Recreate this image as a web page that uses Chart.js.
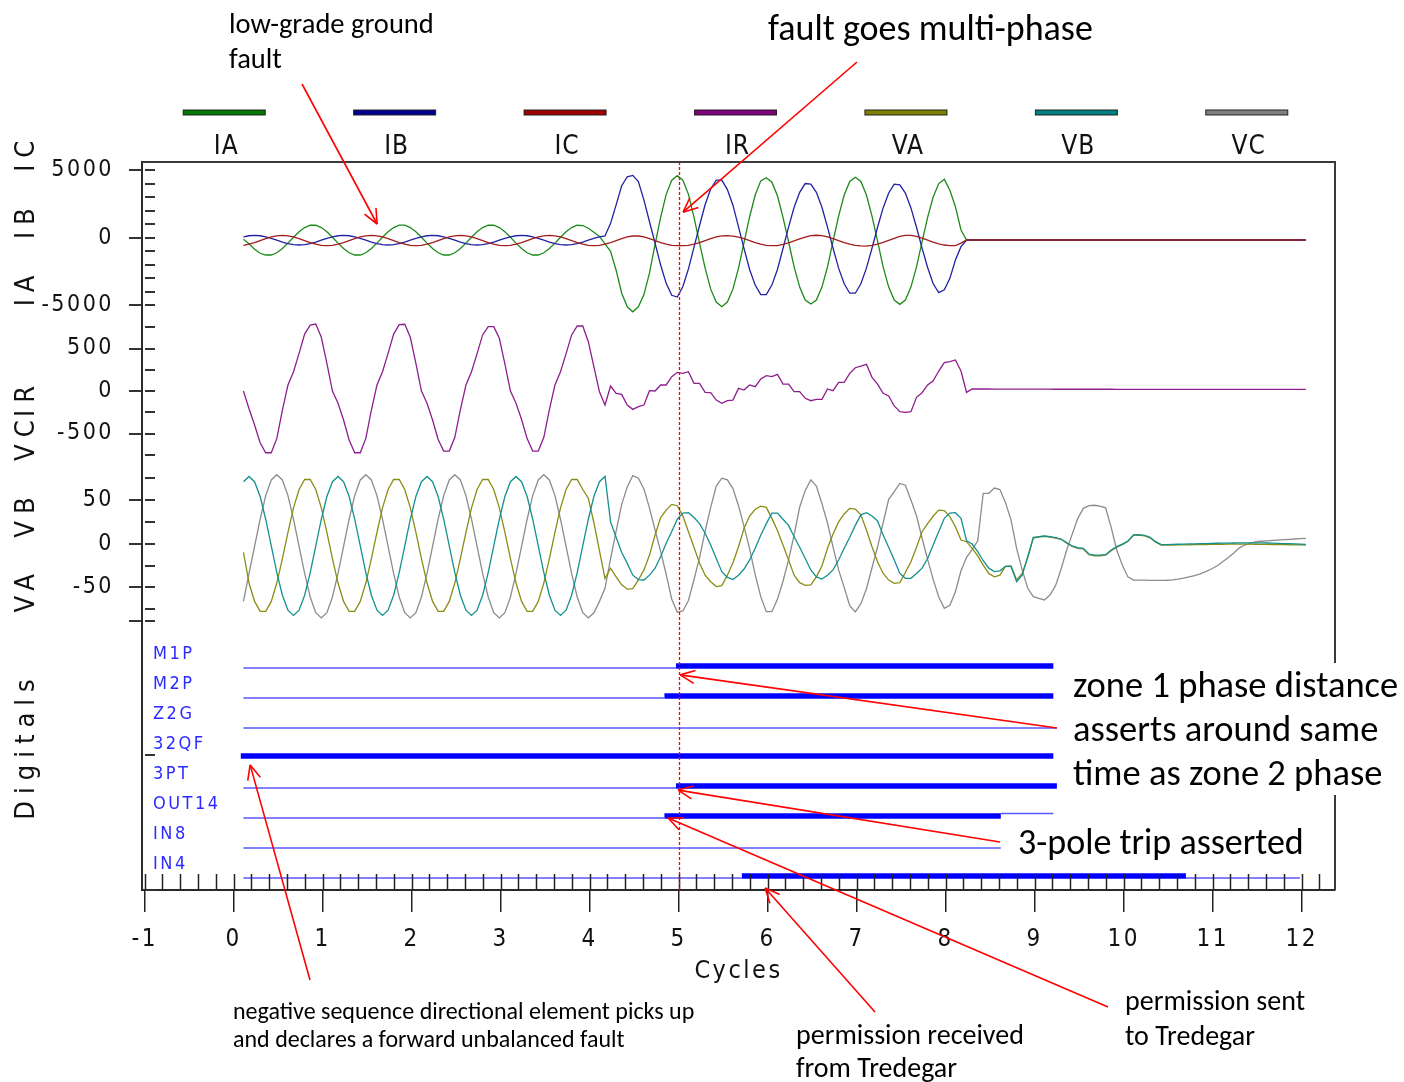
<!DOCTYPE html>
<html lang="en"><head><meta charset="utf-8"><title>Fault record</title>
<script src="https://cdn.jsdelivr.net/npm/chart.js@4.4.1/dist/chart.umd.min.js"></script>
<style>
html,body{margin:0;padding:0;background:#fff}
#wrap{position:relative;width:1404px;height:1082px;overflow:hidden;background:#fff}
#c{position:absolute;left:0;top:0}
.ann{position:absolute;font-family:Carlito,Lato,'Open Sans',sans-serif;color:#000;white-space:nowrap}
</style></head><body>
<div id="wrap">
<canvas id="c" width="1404" height="1082"></canvas>
<div class="ann" style="left:229px;top:6px;font-size:28.5px;line-height:35px">low-grade ground<br>fault</div>
<div class="ann" style="left:768px;top:7px;font-size:36px;line-height:42px">fault goes multi-phase</div>
<div class="ann" style="left:1062px;top:663px;padding-left:11px;width:331px;background:#fff;font-size:36.5px;line-height:44px">zone 1 phase distance<br>asserts around same<br>time as zone 2 phase</div>
<div class="ann" style="left:1018px;top:821px;font-size:36px;line-height:42px">3-pole trip asserted</div>
<div class="ann" style="left:233px;top:997px;font-size:24px;line-height:28px">negative sequence directional element picks up<br>and declares a forward unbalanced fault</div>
<div class="ann" style="left:796px;top:1018px;font-size:28px;line-height:33px">permission received<br>from Tredegar</div>
<div class="ann" style="left:1125px;top:983px;font-size:28px;line-height:35px">permission sent<br>to Tredegar</div>
</div>
<script>
// ---------------- data (read from the record) ----------------
const seriesNames = ['IA','IB','IC','IR','VA','VB','VC'];
const T_START = 0.11;            // first sample, cycles
const SAMPLES_PER_CYCLE = 16;

const IA = [
-120,-450,-850,-1150,
-1279,-1279,-1111,-803,-398,38,443,751,919,919,751,443,38,-398,-803,-1111,
-1279,-1279,-1111,-803,-398,38,443,751,925,925,751,443,38,-398,-803,-1111,
-1279,-1279,-1111,-803,-398,38,443,751,919,919,751,443,38,-398,-803,-1111,
-1279,-1279,-1111,-803,-398,38,443,751,
919,900,700,400,100,
-450,-1000,-2400,-4100,-5100,-5470,-5100,-4200,-2600,-500,
1500,3200,4250,4580,4250,3200,1500,-400,-2250,-3800,
-4750,-5090,-4750,-3800,-2250,-350,1550,3150,4200,4430,
4100,3100,1500,-300,-2150,-3650,-4600,-4900,-4600,-3650,
-2150,-250,1600,3150,4150,4460,4150,3150,1600,-250,
-2150,-3650,-4600,-4920,-4600,-3650,-2150,-300,1500,3000,
4000,4310,3500,2290,570,-170,
-170,-170,-170,-170,-170,-170,-170,-170,-170,-170,
-170,-170,-170,-170,-170,-170,-170,-170,-170,-170,
-170,-170,-170,-170,-170,-170,-170,-170,-170,-170,
-170,-170,-170,-170,-170,-170,-170,-170,-170,-170,
-170,-170,-170,-170,-170,-170,-170,-170,-170,-170,
-170,-170,-170,-170,-170,-170,-170,-170,-170,-170,-170
];
const IB = [
66,143,170,143,66,-49,-185,-321,-436,-513,
-540,-513,-436,-321,-185,-49,66,143,170,143,66,-49,-185,-321,-436,-513,
-540,-513,-436,-321,-185,-49,66,143,170,143,66,-49,-185,-321,-436,-513,
-540,-513,-436,-321,-185,-49,66,143,165,143,66,-49,-185,-321,-436,-513,
-540,-513,-436,-321,-185,-49,66,
125,1060,2420,3840,4500,4600,4140,2780,1180,-410,
-2020,-3370,-4250,-4380,-3600,-2300,-700,900,2450,3600,
4250,4250,3550,2400,800,-800,-2350,-3500,-4200,-4200,
-3500,-2350,-800,780,2250,3350,4000,3950,3350,2250,
780,-780,-2250,-3400,-4100,-4100,-3400,-2250,-780,770,
2200,3300,3950,3900,3300,2200,770,-770,-2200,-3400,
-4060,-3850,-3000,-1650,-660,-170,
-170,-170,-170,-170,-170,-170,-170,-170,-170,-170,
-170,-170,-170,-170,-170,-170,-170,-170,-170,-170,
-170,-170,-170,-170,-170,-170,-170,-170,-170,-170,
-170,-170,-170,-170,-170,-170,-170,-170,-170,-170,
-170,-170,-170,-170,-170,-170,-170,-170,-170,-170,
-170,-170,-170,-170,-170,-170,-170,-170,-170,-170,-170
];
const IC = [
-561,-479,-355,-210,-65,59,141,170,141,59,-65,-210,-355,-479,-561,-590,
-561,-479,-355,-210,-65,59,141,170,141,59,-65,-210,-355,-479,-561,-590,
-561,-479,-355,-210,-65,59,141,170,141,59,-65,-210,-355,-479,-561,-590,
-561,-479,-355,-210,-65,59,141,170,141,59,-65,-210,-355,-479,-561,-590,
-561,-479,-355,-210,-65,59,125,125,59,-65,
-210,-355,-479,-561,-590,-590,-561,-479,-355,-210,
-65,59,130,150,120,40,-65,-210,-355,-479,
-561,-590,-580,-500,-380,-240,-90,50,150,180,
150,60,-60,-210,-355,-479,-561,-610,-620,-570,
-480,-350,-200,-50,100,170,170,100,-30,-180,
-330,-460,-540,-585,-580,-400,-170,
-170,-170,-170,-170,-170,-170,-170,-170,-170,-170,
-170,-170,-170,-170,-170,-170,-170,-170,-170,-170,
-170,-170,-170,-170,-170,-170,-170,-170,-170,-170,
-170,-170,-170,-170,-170,-170,-170,-170,-170,-170,
-170,-170,-170,-170,-170,-170,-170,-170,-170,-170,
-170,-170,-170,-170,-170,-170,-170,-170,-170,-170,-170
];
const IR = [
0,-208,-400,-608,
-726,-726,-557,-224,71,227,443,670,776,788,632,326,0,-145,-341,-576,
-726,-726,-557,-224,71,227,443,670,780,785,632,326,0,-145,-341,-570,
-706,-706,-545,-220,71,227,440,660,757,757,620,320,0,-145,-335,-560,
-706,-706,-545,-220,71,227,440,660,
765,765,580,286,-8,-165,59,-27,-39,-165,
-216,-184,-165,4,0,71,71,169,220,208,
227,90,90,-16,-20,-106,-145,-114,-106,31,
12,71,51,141,180,169,196,82,82,-8,
-8,-86,-114,-98,-98,24,4,102,102,208,
274,294,314,161,82,-27,-59,-176,-243,-251,
-243,-74,-20,71,121,235,333,345,365,235,
-16,24,
24,24,24,23,23,23,23,23,22,22,
22,22,22,22,21,21,21,21,21,21,
21,21,21,21,21,20,20,20,20,20,
20,20,20,20,20,20,20,20,20,20,
20,20,20,20,20,20,20,20,20,20,
20,20,20,20,20,20,20,20,20,20
];
const VA = [
-10,-45,-66,-77.5,-77.5,-66,-45,-17,13,41,62,73.5,73.5,62,41,13,
-17,-45,-66,-77.5,-77.5,-66,-45,-17,13,41,62,73.5,73.5,62,41,13,
-17,-45,-66,-77.5,-77.5,-66,-45,-17,13,41,62,73.5,73.5,62,41,13,
-17,-45,-66,-77.5,-77.5,-66,-45,-17,13,41,62,73.5,73.5,62,
52,24,-8,-40,-28,-38,-47,-52,-51.5,-41.5,
-30,-13,10,30,38.5,45,43.5,31.7,13.7,-4,
-22.4,-36,-43.5,-49,-48,-36,-21.7,-3.4,17.6,31.7,
39.4,43,41.6,29,15,-1.5,-18.6,-36,-44.6,-47.6,
-47,-38,-25.5,-5.3,11,25,34,40.5,39.7,33,
15.7,-3.4,-20.6,-34,-41.6,-45.3,-44.6,-33,-20.6,-4,
13.7,23,31.7,38.5,37.8,31,19.5,4.2,2.3,-5.3,
-14,-24.4,-34,-38,-36,-26,-25.5,-41.5,-34,
-16,6.5,7.5,8.5,7.5,6.5,5,0.5,-3.2,-5.3,
-6,-12.5,-13.8,-13.8,-13.2,-8,-4,-1,2.5,9.5,
9.8,9,6.8,1.8,-1.6,
-1.6,-1.5,-1.4,-1.3,-1.2,-1.1,-1,-0.9,-0.8,-0.7,-0.6,-0.5,-0.4,-0.4,-0.4,-0.5,-0.6,-0.7,-0.8,-0.9,-1,-1.1,-1.2,-1.3,-1.4,-1.5
];
const VB = [
71,77,71,54,28,-2.5,-33,-59,-76,-82,-76,-59,-33,-2.5,28,54,
71,77,71,54,28,-2.5,-33,-59,-76,-82,-76,-59,-33,-2.5,28,54,
71,77,71,54,28,-2.5,-33,-59,-76,-82,-76,-59,-33,-2.5,28,54,
71,77,71,54,28,-2.5,-33,-59,-76,-82,-76,-59,
-33,-2.5,28,54,71,77,
25,7.3,-10,-22.5,-36,-41,-41.5,-36,-28,-15,
0.5,14,28,35,35.5,30,23,12,-1.5,-17,
-32,-38.5,-41,-36,-29,-18.6,-5.3,9.6,23,35,
35,28,21,8,-4,-17,-30,-38,-40.4,-36,
-30,-18.6,-5.3,7.3,21,33,35.5,31.7,26,10,
-4,-18.6,-34,-39.6,-39.6,-34,-28,-17,-1.5,14,
29,35,35.5,29,3.4,-0.4,-9,-19.5,-28,-32,
-31,-26,-26,-43.5,-36,-15,7.3,8,8.8,8,
6.9,5.4,1.2,-2.6,-4.6,-5.3,-11.8,-13,-13,-12.6,
-7.2,-3.4,-0.4,3,10,10.3,9.6,7.3,2.3,-1.1,
-1,-0.8,-0.6,-0.5,-0.3,-0.2,0,0.2,0.4,0.5,0.6,0.7,0.8,0.9,1,1,1,0.9,0.8,0.6,0.4,0.2,0,-0.2,-0.5,-0.7
];
const VC = [
-66,-34,-3,28,55,73,79,73,55,28,-3,-34,-61,-79,-85,-79,
-61,-34,-3,28,55,73,79,73,55,28,-3,-34,-61,-79,-85,-79,
-61,-34,-3,28,55,73,79,73,55,28,-3,-34,-61,-79,-85,-79,
-61,-34,-3,28,55,73,79,73,55,28,-3,-34,-61,-79,-85,-79,
-66,-51,-17,14.5,45,65,78,75,62.6,40.8,
15.7,-8.7,-35,-63.7,-78.5,-77,-65,-41,-16,14.5,
41.6,66,75,73,63,43.5,19.5,-6,-35.5,-60.6,
-77.8,-77.8,-63.7,-43,-18.6,10,42,61,73,66,
45.8,23.7,-3.8,-30,-50,-71,-78,-68.6,-51.5,-27.5,
-3.8,24,50.8,59.5,69,67,50,32,6.5,-18,
-40.8,-61,-74,-70.5,-55,-31,-15.6,-6.8,3,57.7,
57.7,63.7,62,47,27,-5.3,-30,-51,-60.6,-62.5,
-64.4,-58.7,-48,-29,-7.2,11,29,40.5,43.5,44,
43,41,18.7,-7.2,-24.4,-38,-41.6,
-41.6,-41.6,-42,-42,-42,-41.8,-41.3,-40.5,-39.5,-38,
-36.5,-34.5,-32,-29,-25.5,-21,-16,-11,-5,-1.5,
0.5,2.3,2.8,3.3,3.7,4.2,4.6,5,5.4,5.8,6
];

// digital channels: edge times (cycles) and state of each interval
// state 0 = deasserted (thin), 1 = asserted (thick), 2 = thin trace at asserted level
const digNames  = ['M1P','M2P','Z2G','32QF','3PT','OUT14','IN8','IN4'];
const digEdges  = [[0.11,4.97,9.21],[0.11,4.84,9.21],[0.11,9.25],[0.08,9.21],[0.11,4.97,9.25],[0.11,4.84,8.62,9.21],[0.11,8.62],[0.11,5.71,10.70,11.98]];
const digStates = [[0,1],[0,1],[0],[1],[0,1],[0,1,2],[0],[0,1,0]];

// axes
const X_MIN = -1.03, X_MAX = 12.375;
const xTickLabels = [-1,0,1,2,3,4,5,6,7,8,9,10,11,12];
const xMinorStep = 0.2, xTickFirst = -1, xTickLast = 12.2;
const yI_range = [-5930, 5591], yI_ticks = [-5000,-4000,-3000,-2000,-1000,0,1000,2000,3000,4000,5000], yI_labels = [-5000,0,5000];
const yR_range = [-835, 859],   yR_ticks = [-750,-500,-250,0,250,500,750], yR_labels = [-500,0,500];
const yV_range = [-89.6, 93.5], yV_ticks = [-88,-75,-50,-25,0,25,50,75], yV_labels = [-50,0,50];
const yD_range = [0, 8.933],    yD_ticks = [0, 4.5];
const FAULT_MARK = 5.0;

// ---------------- chart ----------------
const NARROW = "'Liberation Sans Narrow','Arial Narrow','DejaVu Sans Condensed',sans-serif";
Chart.defaults.font.family = NARROW;
Chart.defaults.color = '#111';

const sampleTimes = IA.map((_, k) => T_START + k / SAMPLES_PER_CYCLE);
const analog = [
  {name:'IA', values:IA, axis:'yI', color:'#1b8a1b', order:3},
  {name:'IB', values:IB, axis:'yI', color:'#2121a3', order:2},
  {name:'IC', values:IC, axis:'yI', color:'#a31c1c', order:1},
  {name:'IR', values:IR, axis:'yR', color:'#8e1e8e', order:1},
  {name:'VA', values:VA, axis:'yV', color:'#8c8c14', order:2},
  {name:'VB', values:VB, axis:'yV', color:'#159090', order:1},
  {name:'VC', values:VC, axis:'yV', color:'#8c8c8c', order:3}
];
const legendFill = ['#007800','#000090','#a00000','#800080','#808000','#008080','#808080'];

const datasets = analog.map(s => ({
  label: s.name,
  data: s.values.map((v, k) => ({x: sampleTimes[k], y: v})),
  yAxisID: s.axis, borderColor: s.color, borderWidth: 1.3,
  pointRadius: 0, tension: 0, fill: false, order: s.order
}));

digNames.forEach((name, i) => {
  const row = (digNames.length - 1 - i) + 0.4;
  const e = digEdges[i], st = digStates[i];
  for (let j = 0; j < st.length; j++) {
    const s = st[j];
    const yv = s === 0 ? row : (s === 1 ? row + 0.07 : row + 0.15);
    datasets.push({
      label: name + '_' + j,
      data: [{x: e[j], y: yv}, {x: e[j + 1], y: yv}],
      yAxisID: 'yD', borderColor: s === 1 ? '#0000ff' : '#5858ff',
      borderWidth: s === 1 ? 5.5 : 1.3, pointRadius: 0, tension: 0, fill: false,
      borderCapStyle: 'butt', order: 0
    });
  }
});

const xTicks = [];
for (let i = 0; ; i++) {
  const v = Math.round((xTickFirst + i * xMinorStep) * 10) / 10;
  if (v > xTickLast + 1e-9) break;
  xTicks.push(v);
}
const xLabelSet = new Set(xTickLabels);

function yScale(weight, range, tickVals, labelVals, outerVals) {
  const lab = new Set(labelVals), outer = new Set(outerVals || labelVals);
  return {
    type: 'linear', position: 'left', stack: 'panels', stackWeight: weight,
    min: range[0], max: range[1], bounds: 'data',
    afterBuildTicks: s => { s.ticks = tickVals.map(v => ({value: v})); },
    afterFit: s => { s.width = 142; },
    ticks: { autoSkip: false, padding: 15, font: {size: 23}, color: '#111',
             callback: v => lab.has(v) ? String(v) : '' },
    grid: { drawOnChartArea: false, drawTicks: true, tickLength: 13, lineWidth: 2,
            color: c => (c.tick && outer.has(c.tick.value)) ? '#333' : 'rgba(0,0,0,0)' },
    border: { display: true, color: '#2a2a2a', width: 2 }
  };
}

const arrows = [
  {tail:[302,84],   x:1.612, axis:'yI', y:1012},
  {tail:[857,62],   x:5.05,  axis:'yI', y:1883},
  {tail:[1057,728], x:5.017, axis:'yD', y:7.17},
  {tail:[1000,842], x:4.994, axis:'yD', y:3.33},
  {tail:[310,980],  x:0.185, axis:'yD', y:4.17},
  {tail:[875,1012], x:5.972, axis:'yD', y:0.067},
  {tail:[1108,1007],x:4.882, axis:'yD', y:2.4}
];
const titles = [
  {text:'IA  IB  IC', y:220},
  {text:'IR', y:398},
  {text:'VA  VB  VC', y:513},
  {text:'Digitals', y:746}
];

const scopePlugin = {
  id: 'scope',
  beforeDraw(chart) { chart.ctx.letterSpacing = '2.5px'; },
  afterDraw(chart) {
    const ctx = chart.ctx, ca = chart.chartArea, sx = chart.scales.x;
    ctx.save();
    ctx.letterSpacing = '0px';
    const line = (x1, y1, x2, y2) => { ctx.beginPath(); ctx.moveTo(x1, y1); ctx.lineTo(x2, y2); ctx.stroke(); };
    // frame (top and right)
    ctx.strokeStyle = '#3a3a3a'; ctx.lineWidth = 2;
    ctx.beginPath(); ctx.moveTo(ca.left, ca.top); ctx.lineTo(ca.right, ca.top); ctx.lineTo(ca.right, ca.bottom); ctx.stroke();
    // inner y ticks
    ctx.strokeStyle = '#333'; ctx.lineWidth = 2;
    ['yI','yR','yV','yD'].forEach(id => {
      const s = chart.scales[id];
      s.ticks.forEach(t => { const y = Math.round(s.getPixelForValue(t.value)); line(ca.left + 3, y, ca.left + 13, y); });
    });
    // inner x ticks
    ctx.strokeStyle = '#222'; ctx.lineWidth = 1.5;
    sx.ticks.forEach(t => { const x = Math.round(sx.getPixelForValue(t.value)) + 0.5; line(x, ca.bottom - 16, x, ca.bottom); });
    // fault marker (red dotted)
    ctx.strokeStyle = '#ff0000'; ctx.lineWidth = 1.3; ctx.setLineDash([3, 2]);
    const fx = Math.round(sx.getPixelForValue(FAULT_MARK)) + 0.5;
    line(fx, ca.top, fx, ca.bottom);
    ctx.setLineDash([]);
    // legend
    const w = (ca.right - ca.left) / seriesNames.length;
    seriesNames.forEach((n, i) => {
      const cx = ca.left + w * (i + 0.5) - 3;
      ctx.fillStyle = legendFill[i]; ctx.fillRect(cx - 41, 110, 82, 5);
      ctx.strokeStyle = '#222'; ctx.lineWidth = 1; ctx.strokeRect(cx - 41, 110, 82, 5);
      ctx.fillStyle = '#111'; ctx.font = '26px ' + NARROW; ctx.letterSpacing = '1px';
      ctx.textAlign = 'center'; ctx.textBaseline = 'middle';
      ctx.fillText(n, cx + 2, 147);
    });
    // panel titles (rotated)
    titles.forEach(tt => {
      ctx.save(); ctx.translate(27, tt.y); ctx.rotate(-Math.PI / 2);
      ctx.font = '27px ' + NARROW; ctx.letterSpacing = '7px';
      ctx.fillStyle = '#111'; ctx.textAlign = 'center'; ctx.textBaseline = 'middle';
      ctx.fillText(tt.text, 0, 0); ctx.restore();
    });
    // digital labels
    const sD = chart.scales.yD;
    ctx.font = '18px ' + NARROW; ctx.letterSpacing = '2.5px'; ctx.fillStyle = '#2b2bff';
    ctx.textAlign = 'left'; ctx.textBaseline = 'middle';
    digNames.forEach((n, i) => {
      const row = (digNames.length - 1 - i) + 0.4;
      ctx.fillText(n, 153, sD.getPixelForValue(row + 0.45));
    });
    // annotation arrows
    ctx.strokeStyle = '#ff0000'; ctx.lineWidth = 1.6; ctx.letterSpacing = '0px';
    arrows.forEach(a => {
      const tx = sx.getPixelForValue(a.x), ty = chart.scales[a.axis].getPixelForValue(a.y);
      const [x0, y0] = a.tail;
      line(x0, y0, tx, ty);
      const ang = Math.atan2(y0 - ty, x0 - tx);
      [-0.42, 0.42].forEach(d => line(tx, ty, tx + 16 * Math.cos(ang + d), ty + 16 * Math.sin(ang + d)));
    });
    ctx.restore();
  }
};

new Chart(document.getElementById('c'), {
  type: 'line',
  data: { datasets },
  options: {
    responsive: false, animation: false, events: [],
    layout: { padding: { left: 0, top: 162, right: 69, bottom: 95 } },
    plugins: { legend: { display: false }, tooltip: { enabled: false } },
    scales: {
      x: {
        type: 'linear', position: 'bottom', min: X_MIN, max: X_MAX, bounds: 'data',
        afterBuildTicks: s => { s.ticks = xTicks.map(v => ({value: v})); },
        afterFit: s => { s.height = 97; },
        ticks: { autoSkip: false, maxRotation: 0, padding: 13, font: {size: 24}, color: '#111',
                 callback: v => xLabelSet.has(v) ? String(v) : '' },
        grid: { drawOnChartArea: false, drawTicks: true, tickLength: 22, lineWidth: 1.5,
                color: c => (c.tick && xLabelSet.has(c.tick.value)) ? '#222' : 'rgba(0,0,0,0)' },
        border: { display: true, color: '#2a2a2a', width: 2 },
        title: { display: true, text: 'Cycles', font: {size: 25}, color: '#111', padding: {top: 0, bottom: 1} }
      },
      yD: yScale(268, yD_range, yD_ticks, [], []),
      yV: yScale(160, yV_range, yV_ticks, yV_labels, [-88, -50, 0, 50]),
      yR: yScale(144, yR_range, yR_ticks, yR_labels),
      yI: yScale(156, yI_range, yI_ticks, yI_labels)
    }
  },
  plugins: [scopePlugin]
});
</script>
</body></html>
